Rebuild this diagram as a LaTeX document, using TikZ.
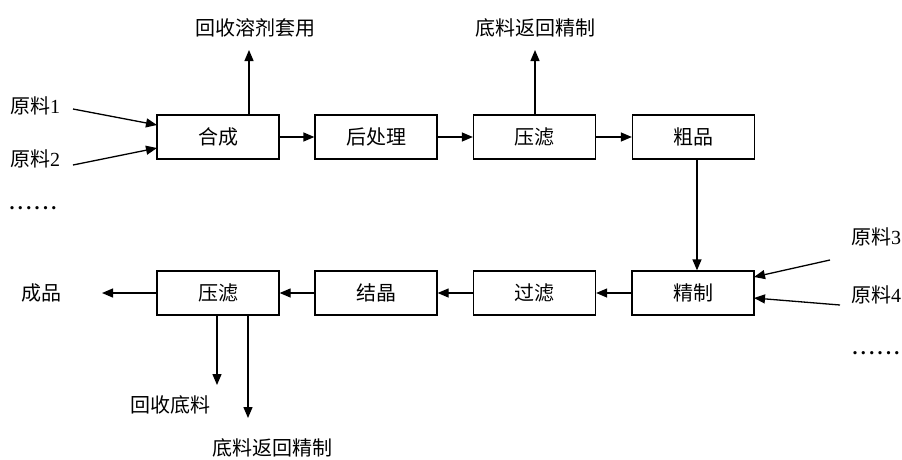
\documentclass[tikz,border=0pt]{standalone}
\usepackage{fontspec}
\setmainfont{Liberation Serif}
\newfontfamily\cjk{Noto Sans CJK SC}
\usetikzlibrary{arrows.meta}
\newcommand{\sixdots}{\textbf{.\kern3.4pt.\kern3.4pt.\kern3.4pt.\kern3.4pt.\kern3.4pt.}}
\begin{document}
\begin{tikzpicture}[x=1pt,y=-1pt,
  box/.style={draw,line width=1.3pt,minimum width=122pt,minimum height=44pt,inner sep=0pt,font=\cjk\fontsize{20}{20}\selectfont},
  lbl/.style={inner sep=0pt,font=\fontsize{20}{20}\selectfont},
  arr/.style={line width=1.3pt,-{Triangle[length=11pt,width=9pt]}}]
\useasboundingbox (0,0) rectangle (902,459);
% top row
\node[box] (hc) at (218,137) {合成};
\node[box] (hcl) at (376,137) {后处理};
\node[box] (yl1) at (534.5,137) {压滤};
\node[box] (cp) at (693.5,137) {粗品};
% bottom row
\node[box] (yl2) at (218,293) {压滤};
\node[box] (jj) at (376,293) {结晶};
\node[box] (gl) at (534.5,293) {过滤};
\node[box] (jz) at (693,293) {精制};
% labels
\node[lbl] (r1) at (35,106) {{\cjk 原料}1};
\node[lbl] (r2) at (35,159) {{\cjk 原料}2};
\node[lbl] (d1) at (33,208) {\sixdots};
\node[lbl] (r3) at (876,237) {{\cjk 原料}3};
\node[lbl] (r4) at (876,295) {{\cjk 原料}4};
\node[lbl] (d2) at (876,353) {\sixdots};
\node[lbl] (hs) at (255,28) {\cjk 回收溶剂套用};
\node[lbl] (dl1) at (535,28) {\cjk 底料返回精制};
\node[lbl] (cpd) at (41,293) {\cjk 成品};
\node[lbl] (hsdl) at (170,405) {\cjk 回收底料};
\node[lbl] (dl2) at (272,448) {\cjk 底料返回精制};
% coordinates
\coordinate (a1) at (73,109);
\coordinate (a2) at (73,165);
\coordinate (a3) at (830,260);
\coordinate (a4) at (840,305);
\coordinate (t1) at (249,50);
\coordinate (t2) at (535,50);
\coordinate (cpe) at (102,293);
\coordinate (b1) at (217,385);
\coordinate (b2) at (248,418);
% connectors
\draw[arr] (a1) -- (157,125);
\draw[arr] (a2) -- (157,148);
\draw[arr] (hc.east) -- (hcl.west);
\draw[arr] (hcl.east) -- (yl1.west);
\draw[arr] (yl1.east) -- (cp.west);
\draw[arr] (hc.north -| t1) -- (t1);
\draw[arr] (yl1.north -| t2) -- (t2);
\draw[arr] (cp.south -| 697,0) -- (jz.north -| 697,0);
\draw[arr] (a3) -- (754,277);
\draw[arr] (a4) -- (754,298);
\draw[arr] (jz.west) -- (gl.east);
\draw[arr] (gl.west) -- (jj.east);
\draw[arr] (jj.west) -- (yl2.east);
\draw[arr] (yl2.west) -- (cpe);
\draw[arr] (yl2.south -| b1) -- (b1);
\draw[arr] (yl2.south -| b2) -- (b2);
\end{tikzpicture}
\end{document}
